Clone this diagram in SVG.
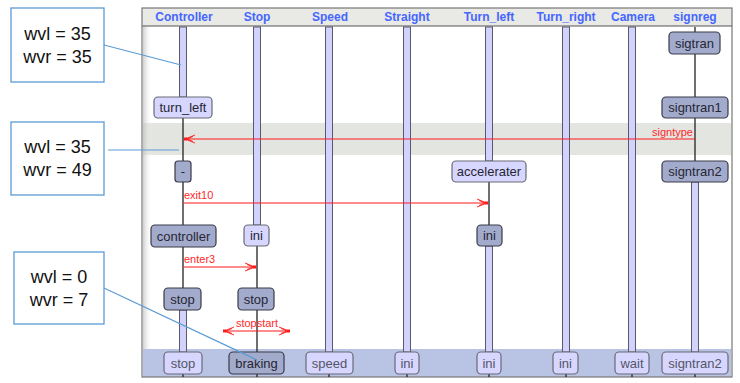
<svg xmlns="http://www.w3.org/2000/svg" width="740" height="383" viewBox="0 0 740 383">
<defs>
<style>
.hdr{font-family:"Liberation Sans",Arial,sans-serif;font-size:12px;font-weight:bold;fill:#4466FF;text-anchor:middle}
.bar{fill:#D2D2FF;stroke:#5A5A66;stroke-width:1}
.thin{stroke:#222;stroke-width:1.3}
.bl{fill:#D6D6FF;stroke:#6A6A78;stroke-width:1.2}
.bd{fill:#A3ABCD;stroke:#3A3A48;stroke-width:1.2}
.bt{font-family:"Liberation Sans",Arial,sans-serif;font-size:13px;text-anchor:middle;fill:#262633}
.btl{font-family:"Liberation Sans",Arial,sans-serif;font-size:13px;text-anchor:middle;fill:#555566}
.msg{stroke:#FF1A1A;stroke-width:1.2;fill:none}
.ml{font-family:"Liberation Sans",Arial,sans-serif;font-size:11px;fill:#FF2A2A}
.cb{fill:#fff;stroke:#5B9BD5;stroke-width:1.3}
.cl{stroke:#5B9BD5;stroke-width:1.2;fill:none}
.ct{font-family:"Liberation Sans",Arial,sans-serif;font-size:18px;text-anchor:middle;fill:#111}
</style>
<marker id="arr" viewBox="0 0 12 10" refX="11" refY="5" markerWidth="12" markerHeight="10" markerUnits="userSpaceOnUse" orient="auto-start-reverse">
<path d="M0,1 L10,5 L0,9 M2,2.5 L8,5 L2,7.5" fill="none" stroke="#FF1A1A" stroke-width="0.9"/>
<rect x="8" y="3.5" width="3" height="3" fill="#FF1A1A"/>
</marker>
<linearGradient id="shadow" x1="0" y1="0" x2="1" y2="0">
<stop offset="0" stop-color="#BBBBBB" stop-opacity="0.7"/>
<stop offset="1" stop-color="#FFFFFF" stop-opacity="0"/>
</linearGradient>
</defs>
<rect width="740" height="383" fill="#fff"/>

<g id="frame">
<rect x="142" y="8" width="590" height="369" fill="#fff"/>
<rect x="143" y="123" width="588" height="32" fill="#E3E5E1"/>
<rect x="143" y="349" width="588" height="28" fill="#B9C3E3"/>
<rect x="143" y="26" width="9" height="323" fill="url(#shadow)"/>
<rect x="142" y="8" width="590" height="18" fill="#E9E9E6"/>
<line x1="142" y1="26" x2="732" y2="26" stroke="#555" stroke-width="1.2"/>
<rect x="142" y="8" width="590" height="369" fill="none" stroke="#777" stroke-width="1.2"/>
<text class="hdr" x="184" y="21">Controller</text>
<text class="hdr" x="257" y="21">Stop</text>
<text class="hdr" x="330" y="21">Speed</text>
<text class="hdr" x="407" y="21">Straight</text>
<text class="hdr" x="489" y="21">Turn_left</text>
<text class="hdr" x="566" y="21">Turn_right</text>
<text class="hdr" x="633" y="21">Camera</text>
<text class="hdr" x="695" y="21">signreg</text>
</g>

<g id="lifelines">
<line class="thin" x1="183" y1="118" x2="183" y2="377"/>
<rect class="bar" x="179.5" y="27" width="7" height="70"/>
<rect class="bar" x="179.5" y="310" width="7" height="42"/>
<line class="thin" x1="257" y1="246" x2="257" y2="377"/>
<rect class="bar" x="253.5" y="27" width="7" height="198"/>
<line class="thin" x1="329" y1="352" x2="329" y2="377"/>
<rect class="bar" x="325.5" y="27" width="7" height="325"/>
<line class="thin" x1="407" y1="352" x2="407" y2="377"/>
<rect class="bar" x="403.5" y="27" width="7" height="325"/>
<line class="thin" x1="489" y1="182" x2="489" y2="377"/>
<rect class="bar" x="485.5" y="27" width="7" height="134"/>
<rect class="bar" x="485.5" y="246" width="7" height="106"/>
<line class="thin" x1="566" y1="352" x2="566" y2="377"/>
<rect class="bar" x="562.5" y="27" width="7" height="325"/>
<line class="thin" x1="632" y1="352" x2="632" y2="377"/>
<rect class="bar" x="628.5" y="27" width="7" height="325"/>
<line class="thin" x1="695" y1="27" x2="695" y2="377"/>
<rect class="bar" x="691.5" y="182" width="7" height="170"/>
</g>

<g id="connectors">
<line class="msg" x1="695" y1="139" x2="184" y2="139" marker-end="url(#arr)"/>
<text class="ml" x="693" y="136" text-anchor="end">signtype</text>
<line class="msg" x1="183" y1="203" x2="488" y2="203" marker-end="url(#arr)"/>
<text class="ml" x="184" y="199">exit10</text>
<line class="msg" x1="183" y1="267" x2="256" y2="267" marker-end="url(#arr)"/>
<text class="ml" x="184" y="263">enter3</text>
<line class="msg" x1="223" y1="331" x2="290" y2="331" marker-start="url(#arr)" marker-end="url(#arr)"/>
<text class="ml" x="257" y="327" text-anchor="middle">stopstart</text>
</g>

<g id="sigtran"><rect class="bd" x="669" y="32" width="51" height="22" rx="4"/><text class="bt" x="694.5" y="47.5">sigtran</text></g>
<g id="turn_left"><rect class="bl" x="154" y="97" width="58" height="21" rx="4"/><text class="bt" x="183" y="112">turn_left</text></g>
<g id="signtran1"><rect class="bd" x="662" y="97" width="66" height="21" rx="4"/><text class="bt" x="695" y="112">signtran1</text></g>
<g id="dash"><rect class="bd" x="175" y="161" width="16" height="21" rx="3"/><text class="bt" x="183" y="176">-</text></g>
<g id="accelerater"><rect class="bl" x="452" y="161" width="74" height="21" rx="4"/><text class="bt" x="489" y="176">accelerater</text></g>
<g id="signtran2"><rect class="bd" x="662" y="161" width="66" height="21" rx="4"/><text class="bt" x="695" y="176">signtran2</text></g>
<g id="controller"><rect class="bd" x="151" y="225" width="65" height="22" rx="4"/><text class="bt" x="183.5" y="240.5">controller</text></g>
<g id="ini_stop"><rect class="bl" x="244" y="225" width="25" height="21" rx="4"/><text class="bt" x="256.5" y="240">ini</text></g>
<g id="ini_turnleft"><rect class="bd" x="477" y="225" width="25" height="21" rx="4"/><text class="bt" x="489.5" y="240">ini</text></g>
<g id="stop_controller"><rect class="bd" x="164" y="288" width="37" height="22" rx="4"/><text class="bt" x="182.5" y="303.5">stop</text></g>
<g id="stop_stop"><rect class="bd" x="238" y="288" width="36" height="22" rx="4"/><text class="bt" x="256" y="303.5">stop</text></g>

<g id="stop_end"><rect class="bl" x="164" y="352" width="38" height="22" rx="4"/><text class="btl" x="183" y="367.5">stop</text></g>
<g id="braking"><rect class="bd" x="229" y="352" width="55" height="22" rx="4"/><text class="bt" x="256.5" y="367.5">braking</text></g>
<g id="speed"><rect class="bl" x="306" y="352" width="47" height="22" rx="4"/><text class="btl" x="329.5" y="367.5">speed</text></g>
<g id="ini_straight"><rect class="bl" x="395" y="352" width="24" height="22" rx="4"/><text class="btl" x="407" y="367.5">ini</text></g>
<g id="ini_turnleft_end"><rect class="bl" x="477" y="352" width="24" height="22" rx="4"/><text class="btl" x="489" y="367.5">ini</text></g>
<g id="ini_turnright"><rect class="bl" x="553" y="352" width="25" height="22" rx="4"/><text class="btl" x="565.5" y="367.5">ini</text></g>
<g id="wait"><rect class="bl" x="615" y="352" width="34" height="22" rx="4"/><text class="btl" x="632" y="367.5">wait</text></g>
<g id="signtran2_end"><rect class="bl" x="662" y="352" width="66" height="22" rx="4"/><text class="btl" x="695" y="367.5">signtran2</text></g>

<g id="callouts">
<line class="cl" x1="104" y1="45" x2="181" y2="65"/>
<line class="cl" x1="108" y1="150" x2="179" y2="150"/>
<line class="cl" x1="104" y1="288" x2="257" y2="360"/>
<g id="callout1"><rect class="cb" x="11" y="8" width="93" height="74"/><text class="ct" x="57.5" y="40">wvl = 35</text><text class="ct" x="57.5" y="63">wvr = 35</text></g>
<g id="callout2"><rect class="cb" x="11" y="122" width="93" height="73"/><text class="ct" x="57.5" y="153">wvl = 35</text><text class="ct" x="57.5" y="176">wvr = 49</text></g>
<g id="callout3"><rect class="cb" x="14" y="252" width="90" height="72"/><text class="ct" x="59" y="283">wvl = 0</text><text class="ct" x="59" y="306">wvr = 7</text></g>
</g>
</svg>
